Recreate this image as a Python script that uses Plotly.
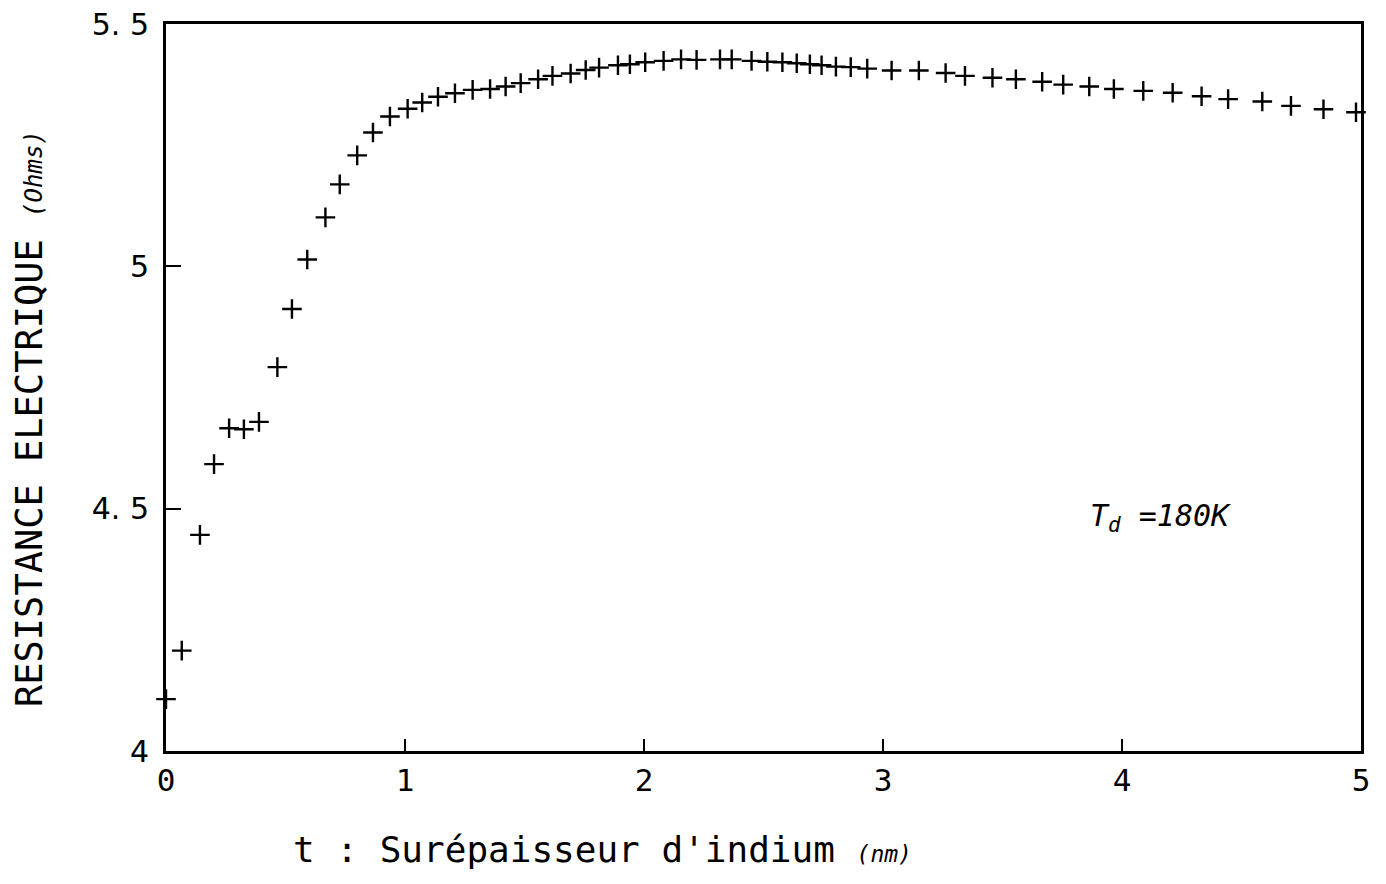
import plotly.graph_objects as go

t_nm = [0.000, 0.066, 0.142, 0.201, 0.264, 0.326, 0.389, 0.466, 0.527, 0.591,
        0.667, 0.727, 0.800, 0.866, 0.937, 1.011, 1.072, 1.138, 1.209, 1.283,
        1.356, 1.421, 1.484, 1.557, 1.617, 1.693, 1.756, 1.812, 1.891, 1.941,
        2.005, 2.082, 2.155, 2.220, 2.318, 2.367, 2.450, 2.516, 2.579, 2.639,
        2.694, 2.743, 2.803, 2.865, 2.934, 3.036, 3.150, 3.262, 3.343, 3.458,
        3.556, 3.666, 3.754, 3.863, 3.966, 4.089, 4.212, 4.333, 4.444, 4.587,
        4.707, 4.843, 4.979]
resistance = [4.107, 4.207, 4.446, 4.592, 4.666, 4.664, 4.679, 4.792, 4.912, 5.014,
              5.101, 5.169, 5.229, 5.276, 5.309, 5.325, 5.338, 5.350, 5.357, 5.364,
              5.366, 5.371, 5.378, 5.386, 5.393, 5.398, 5.405, 5.410, 5.415, 5.417,
              5.421, 5.424, 5.427, 5.426, 5.427, 5.427, 5.424, 5.422, 5.421, 5.419,
              5.417, 5.415, 5.412, 5.411, 5.408, 5.404, 5.404, 5.399, 5.393, 5.389,
              5.386, 5.381, 5.375, 5.371, 5.366, 5.362, 5.358, 5.351, 5.345, 5.340,
              5.331, 5.324, 5.318]

x_ticks = [0, 1, 2, 3, 4, 5]
x_ticktext = ["0", "1", "2", "3", "4", "5"]
y_ticks = [4, 4.5, 5, 5.5]
y_ticktext = ["4", "4. 5", "5", "5. 5"]

MONO = "DejaVu Sans Mono, monospace"
SANS = "DejaVu Sans, sans-serif"

fig = go.Figure()
fig.add_trace(go.Scatter(
    x=t_nm, y=resistance, mode="markers",
    marker=dict(symbol="cross-thin", size=14, line=dict(color="black", width=2.4), color="black"),
    cliponaxis=False, showlegend=False,
))

fig.update_layout(
    width=1386, height=884,
    margin=dict(l=158, r=33, t=16, b=141, autoexpand=False),
    paper_bgcolor="white", plot_bgcolor="white",
    font=dict(family=MONO, color="black"),
)
fig.update_xaxes(
    range=[0, 5], tickvals=x_ticks, ticktext=x_ticktext,
    showgrid=False, zeroline=False, automargin=False,
    showline=True, linecolor="black", linewidth=3, mirror=True,
    ticks="inside", ticklen=12, tickwidth=2, tickcolor="black",
    tickfont=dict(size=31, family=MONO), ticklabelstandoff=0,
    ticklabeloverflow="allow",
)
fig.update_yaxes(
    range=[4, 5.5], tickvals=y_ticks, ticktext=y_ticktext,
    showgrid=False, zeroline=False, automargin=False,
    showline=True, linecolor="black", linewidth=3, mirror=True,
    ticks="inside", ticklen=15, tickwidth=2, tickcolor="black",
    tickfont=dict(size=30, family=SANS), ticklabelstandoff=8,
    ticklabeloverflow="allow",
)

fig.add_annotation(
    xref="paper", yref="paper", x=-0.1138, y=0.4567,
    text="RESISTANCE ELECTRIQUE <i><span style='font-size:24px'>(Ohms)</span></i>",
    textangle=-90, showarrow=False, font=dict(size=37, family=MONO),
    xanchor="center", yanchor="middle",
)
fig.add_annotation(
    xref="paper", yref="paper", x=0.365, y=-0.136,
    text="t : Surépaisseur d'indium <i><span style='font-size:23px'>(nm)</span></i>",
    showarrow=False, font=dict(size=36, family=MONO),
    xanchor="center", yanchor="middle",
)
fig.add_annotation(
    xref="x", yref="y", x=4.159, y=4.481,
    text="<i>T<sub>d</sub> =180K</i>",
    showarrow=False, font=dict(size=30, family=MONO),
    xanchor="center", yanchor="middle",
)

fig.write_html("out.html")
